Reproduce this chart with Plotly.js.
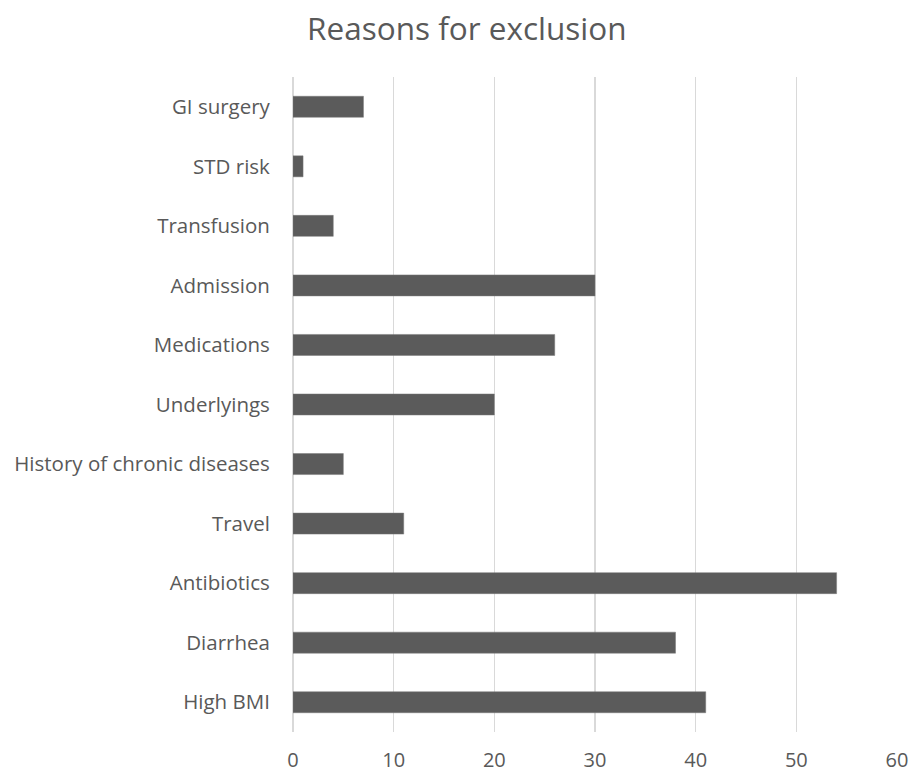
<!DOCTYPE html>
<html>
<head>
<meta charset="utf-8">
<script src="https://cdn.plot.ly/plotly-3.0.1.min.js"></script>
<style>html,body{margin:0;padding:0;background:#fff;}#chart{width:910px;height:773px;}</style>
</head>
<body>
<div id="chart"></div>
<script>
const categories = ["GI surgery","STD risk","Transfusion","Admission","Medications","Underlyings","History of chronic diseases","Travel","Antibiotics","Diarrhea","High BMI"];
const counts = [7, 1, 4, 30, 26, 20, 5, 11, 54, 38, 41];
const xTicks = [0, 10, 20, 30, 40, 50, 60];
const chartTitle = "Reasons for exclusion";

const trace = {
  type: "bar",
  orientation: "h",
  y: categories,
  x: counts,
  marker: {color: "#5b5b5b", line: {color: "#7a7a7a", width: 0.5}},
  hoverinfo: "x+y"
};

const layout = {
  width: 910,
  height: 773,
  margin: {l: 293, r: 13, t: 77, b: 41},
  paper_bgcolor: "#ffffff",
  plot_bgcolor: "#ffffff",
  showlegend: false,
  bargap: 0.647,
  font: {family: "Open Sans, sans-serif", color: "#595959"},
  title: {
    text: chartTitle,
    font: {size: 31.5, color: "#595959", family: "Open Sans, sans-serif"},
    x: 0.513, xanchor: "center",
    y: 0.962, yanchor: "middle"
  },
  xaxis: {
    range: [0, 60],
    tickvals: xTicks,
    ticktext: xTicks.map(String),
    showgrid: true,
    gridcolor: "#d9d9d9",
    gridwidth: 1.5,
    zeroline: true,
    zerolinecolor: "#d9d9d9",
    zerolinewidth: 1.5,
    showline: false,
    ticks: "outside",
    ticklen: 10,
    tickcolor: "rgba(0,0,0,0)",
    tickfont: {size: 20, color: "#595959"},
    automargin: false,
    fixedrange: true
  },
  yaxis: {
    type: "category",
    autorange: "reversed",
    showgrid: false,
    zeroline: false,
    showline: false,
    ticks: "outside",
    ticklen: 18,
    tickcolor: "rgba(0,0,0,0)",
    tickfont: {size: 20.5, color: "#595959"},
    automargin: false,
    fixedrange: true
  }
};

Plotly.newPlot("chart", [trace], layout, {displayModeBar: false, staticPlot: true});
</script>
</body>
</html>
